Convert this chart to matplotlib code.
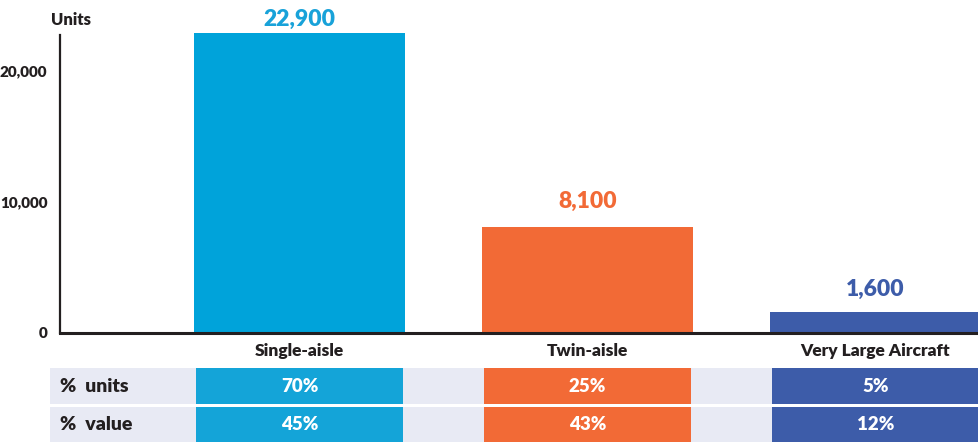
import matplotlib
matplotlib.use("Agg")
import matplotlib.pyplot as plt
from matplotlib.patches import Rectangle

plt.rcParams['font.family'] = ['Lato', 'DejaVu Sans']
FW = "heavy"

categories = ["Single-aisle", "Twin-aisle", "Very Large Aircraft"]
units = [22900, 8100, 1600]
value_labels = ["22,900", "8,100", "1,600"]
pct_units = ["70%", "25%", "5%"]
pct_value = ["45%", "43%", "12%"]
row_labels = ["%  units", "%  value"]
yticks = [0, 10000, 20000]
ytick_labels = ["0", "10,000", "20,000"]

bar_colors = ["#00A3DA", "#F26A36", "#3D5CA9"]
cell_colors = ["#14A4D8", "#F26A36", "#3D5CA9"]
label_colors = ["#18A2D9", "#F26A36", "#3D5CA9"]
label_offsets = [2.5, 10.5, 9]
dark = "#231F20"
gray = "#E8EAF4"

W, H = 979, 442
fig = plt.figure(figsize=(W / 100, H / 100), dpi=100)

px0 = 299.5
step = 288.0
def xdata(px):
    return (px - px0) / step

ax_left, ax_right = 60, 979
ax_bottom_px, ax_top_px = 333, 31.7
ax = fig.add_axes([ax_left / W, (H - ax_bottom_px) / H,
                   (ax_right - ax_left) / W, (ax_bottom_px - ax_top_px) / H])
ax.set_xlim(xdata(ax_left), xdata(ax_right))
ax.set_ylim(0, 23000)

x = list(range(len(categories)))
ax.bar(x, units, width=0.733, color=bar_colors, zorder=2)
for xi, v, lab, c, off in zip(x, units, value_labels, label_colors, label_offsets):
    ax.annotate(lab, (xi, v), xytext=(0, off), textcoords="offset points",
                ha="center", va="bottom", fontsize=16.5, fontweight=FW, color=c)

for s in ["top", "right"]:
    ax.spines[s].set_visible(False)
ax.spines["left"].set_bounds(0, 22750)
ax.spines["left"].set_linewidth(1.6)
ax.spines["left"].set_color(dark)
ax.spines["bottom"].set_linewidth(2.2)
ax.spines["bottom"].set_color(dark)
ax.set_yticks(yticks)
ax.set_yticklabels(ytick_labels, fontsize=11, fontweight=FW, color=dark)
ax.tick_params(axis="y", length=0, pad=9)
ax.set_xticks(x)
ax.set_xticklabels(categories, fontsize=12.5, fontweight=FW, color=dark)
ax.tick_params(axis="x", length=0, pad=7)
fig.text(51 / W, 1 - 20 / H, "Units", ha="left", va="center",
         fontsize=12, fontweight=FW, color=dark)

tab = fig.add_axes([0, 0, 1, 74 / H])
tab.set_xlim(xdata(0), xdata(W))
tab.set_ylim(0, 74)
tab.axis("off")
rows = [(38, 36, pct_units), (0, 35, pct_value)]
cell_w = 0.72
for (y0, h, vals), rl in zip(rows, row_labels):
    tab.add_patch(Rectangle((xdata(50), y0), xdata(W) - xdata(50), h,
                            color=gray, lw=0, zorder=1))
    tab.text(xdata(60), y0 + h / 2, rl, ha="left", va="center",
             fontsize=14, fontweight=FW, color=dark, zorder=3)
    for xi, v, c in zip(x, vals, cell_colors):
        tab.add_patch(Rectangle((xi - cell_w / 2, y0), cell_w, h,
                                color=c, lw=0, zorder=2))
        tab.text(xi, y0 + h / 2, v, ha="center", va="center",
                 fontsize=13.5, fontweight=FW, color="white", zorder=3)

fig.savefig("out.png", dpi=100)
